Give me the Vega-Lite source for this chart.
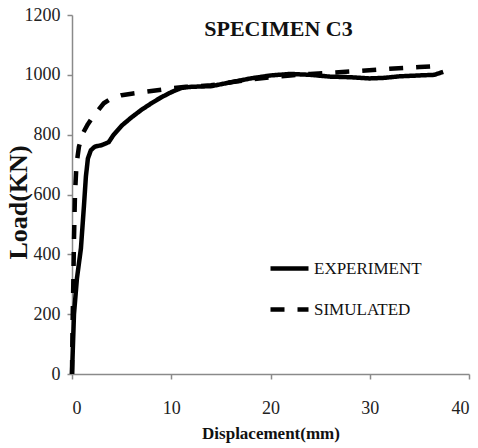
{
  "$schema": "https://vega.github.io/schema/vega-lite/v6.json",
  "width": 397,
  "height": 359,
  "autosize": {"type": "none"},
  "padding": {"left": 72, "top": 15, "right": 9, "bottom": 74},
  "background": "white",
  "title": {
    "text": "SPECIMEN C3",
    "font": "Liberation Serif",
    "fontSize": 22,
    "fontWeight": "bold",
    "color": "#111",
    "frame": "group",
    "anchor": "middle",
    "baseline": "alphabetic",
    "offset": -32,
    "dx": 8,
    "dy": 20
  },
  "config": {
    "view": {"stroke": null},
    "axis": {
      "domainColor": "#8a8a8a",
      "domainWidth": 1.5,
      "tickColor": "#8a8a8a",
      "tickWidth": 1.5,
      "tickSize": 5,
      "grid": false,
      "labelFont": "Liberation Serif",
      "labelFontSize": 18,
      "labelColor": "#222",
      "titleFont": "Liberation Serif",
      "titleFontWeight": "bold",
      "titleColor": "#111"
    }
  },
  "data": {
    "values": [
      {"series": "EXPERIMENT", "d": 0, "load": 0},
      {"series": "EXPERIMENT", "d": 0.2, "load": 200},
      {"series": "EXPERIMENT", "d": 0.5, "load": 320},
      {"series": "EXPERIMENT", "d": 0.9, "load": 420},
      {"series": "EXPERIMENT", "d": 1.2, "load": 560},
      {"series": "EXPERIMENT", "d": 1.4, "load": 660},
      {"series": "EXPERIMENT", "d": 1.6, "load": 720},
      {"series": "EXPERIMENT", "d": 1.9, "load": 748},
      {"series": "EXPERIMENT", "d": 2.3, "load": 760},
      {"series": "EXPERIMENT", "d": 3.0, "load": 765},
      {"series": "EXPERIMENT", "d": 3.7, "load": 775},
      {"series": "EXPERIMENT", "d": 4.2, "load": 800},
      {"series": "EXPERIMENT", "d": 5.0, "load": 830},
      {"series": "EXPERIMENT", "d": 6.0, "load": 858},
      {"series": "EXPERIMENT", "d": 7.0, "load": 883},
      {"series": "EXPERIMENT", "d": 8.0, "load": 905},
      {"series": "EXPERIMENT", "d": 9.0, "load": 925},
      {"series": "EXPERIMENT", "d": 10.0, "load": 942},
      {"series": "EXPERIMENT", "d": 11.0, "load": 956},
      {"series": "EXPERIMENT", "d": 12.0, "load": 960},
      {"series": "EXPERIMENT", "d": 14.0, "load": 962},
      {"series": "EXPERIMENT", "d": 16.0, "load": 975},
      {"series": "EXPERIMENT", "d": 18.0, "load": 988},
      {"series": "EXPERIMENT", "d": 20.0, "load": 998},
      {"series": "EXPERIMENT", "d": 22.0, "load": 1003},
      {"series": "EXPERIMENT", "d": 24.0, "load": 1000},
      {"series": "EXPERIMENT", "d": 26.0, "load": 994},
      {"series": "EXPERIMENT", "d": 28.0, "load": 992},
      {"series": "EXPERIMENT", "d": 30.0, "load": 988},
      {"series": "EXPERIMENT", "d": 31.5, "load": 990},
      {"series": "EXPERIMENT", "d": 33.0, "load": 995},
      {"series": "EXPERIMENT", "d": 35.0, "load": 998},
      {"series": "EXPERIMENT", "d": 36.5, "load": 1000},
      {"series": "EXPERIMENT", "d": 37.4, "load": 1010},
      {"series": "SIMULATED", "d": 0, "load": 0},
      {"series": "SIMULATED", "d": 0.05, "load": 150},
      {"series": "SIMULATED", "d": 0.13, "load": 300},
      {"series": "SIMULATED", "d": 0.2, "load": 450},
      {"series": "SIMULATED", "d": 0.3, "load": 600},
      {"series": "SIMULATED", "d": 0.45, "load": 700},
      {"series": "SIMULATED", "d": 0.7, "load": 760},
      {"series": "SIMULATED", "d": 1.1, "load": 805},
      {"series": "SIMULATED", "d": 1.6, "load": 835},
      {"series": "SIMULATED", "d": 2.1, "load": 860},
      {"series": "SIMULATED", "d": 2.6, "load": 880},
      {"series": "SIMULATED", "d": 3.2, "load": 905},
      {"series": "SIMULATED", "d": 4.0, "load": 922},
      {"series": "SIMULATED", "d": 5.0, "load": 932},
      {"series": "SIMULATED", "d": 6.0, "load": 937},
      {"series": "SIMULATED", "d": 8.0, "load": 946},
      {"series": "SIMULATED", "d": 10.0, "load": 955},
      {"series": "SIMULATED", "d": 11.5, "load": 960},
      {"series": "SIMULATED", "d": 14.0, "load": 965},
      {"series": "SIMULATED", "d": 16.0, "load": 975},
      {"series": "SIMULATED", "d": 18.0, "load": 985},
      {"series": "SIMULATED", "d": 20.0, "load": 992},
      {"series": "SIMULATED", "d": 22.0, "load": 998},
      {"series": "SIMULATED", "d": 24.0, "load": 1003},
      {"series": "SIMULATED", "d": 26.0, "load": 1007},
      {"series": "SIMULATED", "d": 29.0, "load": 1013},
      {"series": "SIMULATED", "d": 32.0, "load": 1020},
      {"series": "SIMULATED", "d": 35.0, "load": 1026},
      {"series": "SIMULATED", "d": 37.0, "load": 1030}
    ]
  },
  "mark": {"type": "line", "color": "black", "strokeWidth": 4.5, "strokeJoin": "round"},
  "encoding": {
    "x": {
      "field": "d",
      "type": "quantitative",
      "scale": {"domain": [0, 40], "nice": false},
      "axis": {
        "values": [0, 10, 20, 30, 40],
        "format": "d",
        "title": "Displacement(mm)",
        "titleFontSize": 17,
        "labelPadding": 20,
        "titlePadding": 8
      }
    },
    "y": {
      "field": "load",
      "type": "quantitative",
      "scale": {"domain": [0, 1200], "nice": false},
      "axis": {
        "values": [0, 200, 400, 600, 800, 1000, 1200],
        "format": "d",
        "title": "Load(KN)",
        "titleFontSize": 26,
        "titleX": -54,
        "titleY": 187,
        "titleAnchor": "middle",
        "titleBaseline": "middle",
        "labelPadding": 7
      }
    },
    "strokeDash": {
      "field": "series",
      "type": "nominal",
      "scale": {"domain": ["EXPERIMENT", "SIMULATED"], "range": [[1, 0], [14, 13]]},
      "legend": {
        "title": null,
        "orient": "none",
        "legendX": 196,
        "legendY": 232,
        "symbolType": "stroke",
        "symbolSize": 1444,
        "symbolStrokeWidth": 4.5,
        "symbolStrokeColor": "black",
        "labelFont": "Liberation Serif",
        "labelFontSize": 17,
        "labelColor": "#111",
        "labelOffset": 3,
        "rowPadding": 10
      }
    }
  }
}
